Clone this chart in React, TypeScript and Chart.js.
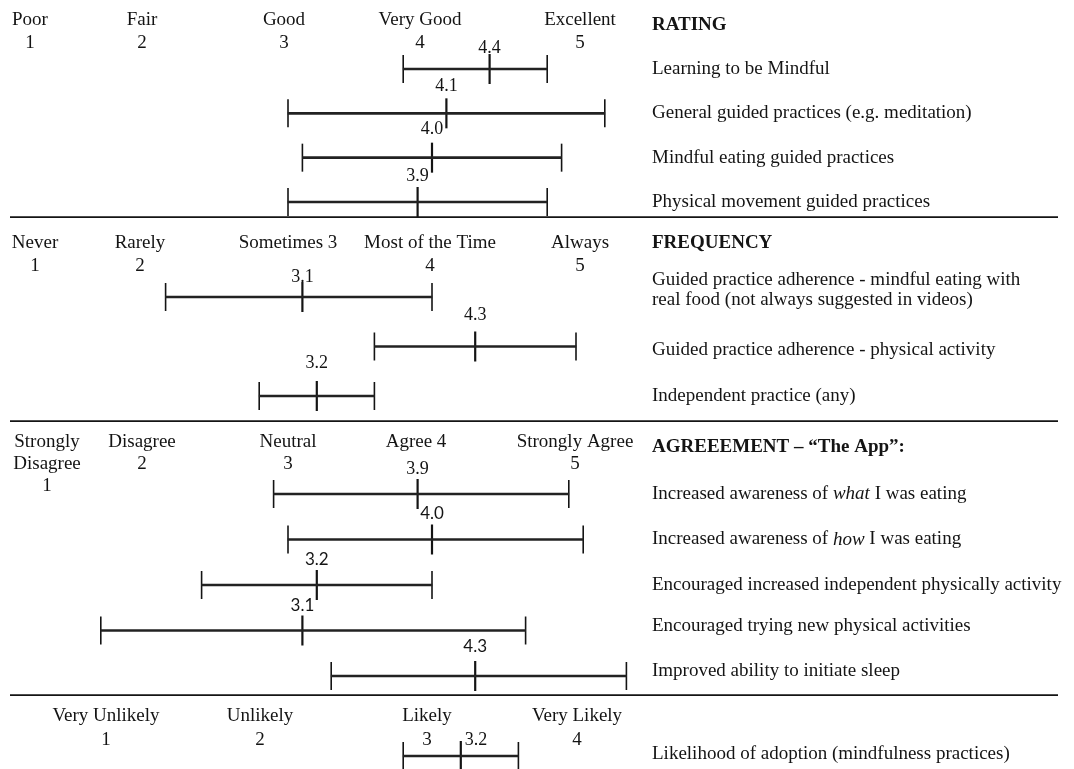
import React, { useEffect, useRef } from 'react';
import { Chart, registerables } from 'chart.js';

Chart.register(...registerables);

// ---------- DATA ----------
// Section 1: Rating (5-point)
const ratingScaleLabels = [['Poor', '1'], ['Fair', '2'], ['Good', '3'], ['Very Good', '4'], ['Excellent', '5']];
const ratingItems = [
  'Learning to be Mindful',
  'General guided practices (e.g. meditation)',
  'Mindful eating guided practices',
  'Physical movement guided practices',
];
const ratingMeans = [4.4, 4.1, 4.0, 3.9];
const ratingLow = [3.8, 3.0, 3.1, 3.0];
const ratingHigh = [4.8, 5.2, 4.9, 4.8];

// Section 2: Frequency (5-point)
const frequencyScaleLabels = [['Never', '1'], ['Rarely', '2'], ['Sometimes 3'], ['Most of the Time', '4'], ['Always', '5']];
const frequencyItems = [
  ['Guided practice adherence - mindful eating with', 'real food (not always suggested in videos)'],
  'Guided practice adherence - physical activity',
  'Independent practice (any)',
];
const frequencyMeans = [3.1, 4.3, 3.2];
const frequencyLow = [2.15, 3.6, 2.8];
const frequencyHigh = [4.0, 5.0, 3.6];

// Section 3: Agreement (5-point)
const agreementScaleLabels = [['Strongly', 'Disagree', '1'], ['Disagree', '2'], ['Neutral', '3'], ['Agree 4'], ['Strongly Agree', '5']];
const agreementItems = [
  'Increased awareness of _what_ I was eating',
  'Increased awareness of _how_ I was eating',
  'Encouraged increased independent physically activity',
  'Encouraged trying new physical activities',
  'Improved ability to initiate sleep',
];
const agreementMeans = [3.9, 4.0, 3.2, 3.1, 4.3];
const agreementLow = [2.9, 3.0, 2.4, 1.7, 3.3];
const agreementHigh = [4.95, 5.05, 4.0, 4.65, 5.35];

// Section 4: Likelihood (4-point)
const likelihoodScaleLabels = [['Very Unlikely', '1'], ['Unlikely', '2'], ['Likely', '3'], ['Very Likely', '4']];
const likelihoodItems = ['Likelihood of adoption (mindfulness practices)'];
const likelihoodMeans = [3.2];
const likelihoodLow = [2.8];
const likelihoodHigh = [3.6];

// ---------- STYLE / LAYOUT ----------
const WIDTH = 1074;
const AREA_W = 645;
const PX_PER_UNIT = 144;
const INK = '#141414';
const SERIF = '"Liberation Serif", "Times New Roman", serif';
const SANS = 'Lato, "Liberation Sans", sans-serif';
const LABEL_FONT = `19px ${SERIF}`;
const ITALIC_FONT = `italic 19px ${SERIF}`;
const BOLD_FONT = `bold 19px ${SERIF}`;
const MEAN_SERIF = `18px ${SERIF}`;
const MEAN_SANS = `17px ${SANS}`;

type Section = {
  height: number;
  padTop: number;
  padBottom: number;
  offset: boolean;
  xMin: number;
  scaleStart: number;
  scaleLabels: string[][];
  scaleNudge: number[];
  headerY: number;
  headerLine: number;
  title?: string;
  titleY: number;
  items: (string | string[])[];
  means: number[];
  low: number[];
  high: number[];
  meanDy: number[];
  meanDx: number;
  meanAlign: CanvasTextAlign;
  meanFonts: string[];
  rowLabelDy: number[];
  divider: boolean;
};

const sections: Section[] = [
  {
    height: 218, padTop: 69, padBottom: 16, offset: false, xMin: 1, scaleStart: 1,
    scaleLabels: ratingScaleLabels, scaleNudge: [30, -2, -4, -12, 4], headerY: 20, headerLine: 23,
    title: 'RATING', titleY: 25,
    items: ratingItems, means: ratingMeans, low: ratingLow, high: ratingHigh,
    meanDy: [21, 27, 28, 26], meanDx: 0, meanAlign: 'center',
    meanFonts: ['serif', 'serif', 'serif', 'serif'], rowLabelDy: [0, 0, 0, 0], divider: true,
  },
  {
    height: 204, padTop: 79, padBottom: 26, offset: false, xMin: 1, scaleStart: 1,
    scaleLabels: frequencyScaleLabels, scaleNudge: [35, -4, 0, -2, 4], headerY: 25, headerLine: 23,
    title: 'FREQUENCY', titleY: 25,
    items: frequencyItems, means: frequencyMeans, low: frequencyLow, high: frequencyHigh,
    meanDy: [20, 31, 33], meanDx: 0, meanAlign: 'center',
    meanFonts: ['serif', 'serif', 'serif'], rowLabelDy: [-7, 4, 0], divider: true,
  },
  {
    height: 274, padTop: 72, padBottom: 20, offset: false, xMin: 1, scaleStart: 1,
    scaleLabels: agreementScaleLabels, scaleNudge: [47, -2, 0, -16, -1], headerY: 20, headerLine: 22,
    title: 'AGREEEMENT \u2013 \u201CThe App\u201D:', titleY: 25,
    items: agreementItems, means: agreementMeans, low: agreementLow, high: agreementHigh,
    meanDy: [25, 26, 25, 25, 29], meanDx: 0, meanAlign: 'center',
    meanFonts: ['serif', 'sans', 'sans', 'sans', 'sans'], rowLabelDy: [0, 0, 0, -4, -5], divider: true,
  },
  {
    height: 73, padTop: 47, padBottom: 0, offset: true, xMin: 0, scaleStart: 1,
    scaleLabels: likelihoodScaleLabels, scaleNudge: [-38, -28, -5, 1], headerY: 20, headerLine: 24,
    titleY: 25,
    items: likelihoodItems, means: likelihoodMeans, low: likelihoodLow, high: likelihoodHigh,
    meanDy: [16], meanDx: 4, meanAlign: 'left',
    meanFonts: ['serif'], rowLabelDy: [-2], divider: false,
  },
];

function drawRich(ctx: CanvasRenderingContext2D, text: string, x: number, y: number) {
  const parts = text.split('_');
  let cx = x;
  parts.forEach((part, k) => {
    if (!part) return;
    ctx.font = k % 2 === 1 ? ITALIC_FONT : LABEL_FONT;
    ctx.fillText(part, cx, y);
    cx += ctx.measureText(part).width;
  });
}

function makeTextPlugin(s: Section) {
  return {
    id: 'sectionText',
    afterDatasetsDraw(chart: any) {
      const { ctx, chartArea } = chart;
      const xs = chart.scales.x;
      const ys = chart.scales.y;
      ctx.save();
      ctx.fillStyle = INK;
      ctx.textBaseline = 'middle';

      // scale header labels
      ctx.textAlign = 'center';
      ctx.font = LABEL_FONT;
      s.scaleLabels.forEach((lines, i) => {
        const x = xs.getPixelForValue(s.scaleStart + i) + s.scaleNudge[i];
        lines.forEach((line, j) => ctx.fillText(line, x, s.headerY + j * s.headerLine));
      });

      // section title
      if (s.title) {
        ctx.textAlign = 'left';
        ctx.font = BOLD_FONT;
        ctx.fillText(s.title, chartArea.right + 7, s.titleY);
      }

      // row labels
      ctx.textAlign = 'left';
      const lh = 20;
      s.items.forEach((item, i) => {
        const lines = Array.isArray(item) ? item : [item];
        const y0 = ys.getPixelForValue(i) - ((lines.length - 1) * lh) / 2 + s.rowLabelDy[i];
        lines.forEach((line, j) => drawRich(ctx, line, chartArea.right + 7, y0 + j * lh));
      });

      // mean labels
      const meta = chart.getDatasetMeta(3);
      ctx.textAlign = s.meanAlign;
      meta.data.forEach((pt: any, i: number) => {
        ctx.font = s.meanFonts[i] === 'sans' ? MEAN_SANS : MEAN_SERIF;
        ctx.fillText(s.means[i].toFixed(1), pt.x + s.meanDx, pt.y - s.meanDy[i]);
      });

      // divider
      if (s.divider) {
        ctx.strokeStyle = INK;
        ctx.lineWidth = 1.8;
        ctx.beginPath();
        ctx.moveTo(10, chart.height - 0.9);
        ctx.lineTo(1058, chart.height - 0.9);
        ctx.stroke();
      }
      ctx.restore();
    },
  };
}

function pointSet(data: number[], radius: number, width: number) {
  return {
    type: 'line' as const,
    indexAxis: 'y' as const,
    data,
    showLine: false,
    clip: false as any,
    pointStyle: 'line' as const,
    pointRotation: 90,
    pointRadius: radius,
    pointHoverRadius: radius,
    pointBorderWidth: width,
    pointBorderColor: INK,
    pointBackgroundColor: INK,
    borderColor: INK,
  };
}

function SectionChart({ s }: { s: Section }) {
  const ref = useRef<HTMLCanvasElement | null>(null);
  useEffect(() => {
    if (!ref.current) return;
    const chart = new Chart(ref.current, {
      type: 'bar',
      data: {
        labels: s.items as any,
        datasets: [
          {
            type: 'bar',
            indexAxis: 'y',
            data: s.low.map((l, i) => [l, s.high[i]]) as any,
            backgroundColor: '#222',
            borderWidth: 0,
            barThickness: 2,
            clip: false as any,
          } as any,
          pointSet(s.low, 14, 1.6),
          pointSet(s.high, 14, 1.6),
          pointSet(s.means, 15, 2.2),
        ],
      },
      options: {
        animation: false,
        responsive: false,
        maintainAspectRatio: false,
        devicePixelRatio: 1,
        indexAxis: 'y',
        events: [],
        layout: {
          autoPadding: false,
          padding: { top: s.padTop, bottom: s.padBottom, left: 0, right: WIDTH - AREA_W },
        },
        plugins: { legend: { display: false }, tooltip: { enabled: false } },
        scales: {
          x: { type: 'linear', display: false, min: s.xMin, max: s.xMin + AREA_W / PX_PER_UNIT },
          y: { type: 'category', display: false, offset: s.offset },
        },
      },
      plugins: [makeTextPlugin(s)],
    });
    return () => chart.destroy();
  }, [s]);
  return (
    <canvas
      ref={ref}
      width={WIDTH}
      height={s.height}
      style={{ display: 'block', width: WIDTH, height: s.height }}
    />
  );
}

export default function App() {
  return (
    <div style={{ position: 'absolute', left: 0, top: 0, width: WIDTH, background: '#fff' }}>
      {sections.map((s, i) => (
        <SectionChart key={i} s={s} />
      ))}
    </div>
  );
}
